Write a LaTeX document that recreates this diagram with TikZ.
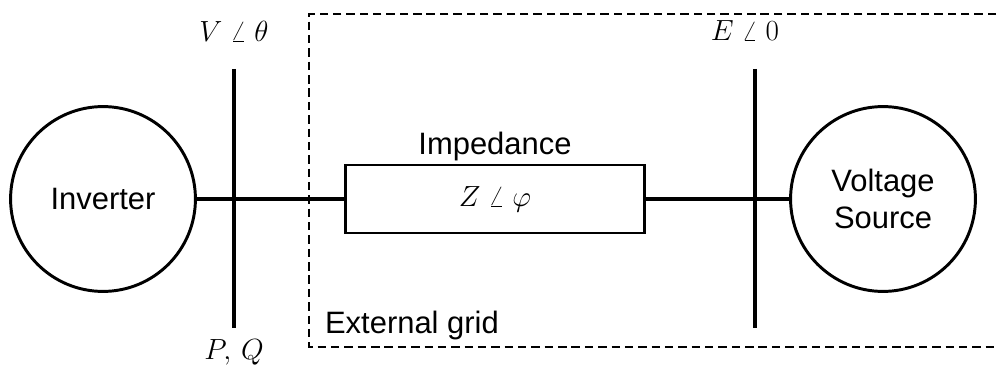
\documentclass[tikz,border=0pt]{standalone}
\usepackage{fontspec}
\setmainfont{Liberation Sans}
\usepackage{tikz}
\usetikzlibrary{positioning}

\begin{document}
\begin{tikzpicture}[x=0.025cm, y=-0.025cm,
  every node/.style={inner sep=2pt, font=\fontsize{22}{26}\selectfont},
  dev/.style={circle, draw, line width=2.1pt, minimum size=4.62cm, align=center},
  imp/.style={draw, line width=2.1pt, minimum width=7.45cm, minimum height=1.7cm},
  bus/.style={line width=2.6pt},
  wire/.style={line width=2.4pt},
  grid/.style={line width=0.9pt, dash pattern=on 6pt off 3.5pt}]
\useasboundingbox (0,0) rectangle (998,367);
% external grid frame
\draw[grid] (996,14) -- (309,14) -- (309,347) -- (996,347);
\node[anchor=west] (Ext) at (322,325) {External grid};
% devices
\node[dev] (Inv) at (103,199) {Inverter};
\node[dev] (Src) at (883,199) {Voltage\\Source};
\node[imp] (Imp) at (495,199) {$Z \;\angle\; \varphi$};
\node[above=0pt of Imp] (ImpLbl) {Impedance};
% buses
\coordinate (BusAt) at (234,69);
\coordinate (BusAb) at (234,328);
\coordinate (BusBt) at (755,69);
\coordinate (BusBb) at (755,328);
\draw[bus] (BusAt) -- (BusAb);
\draw[bus] (BusBt) -- (BusBb);
\node (Vth) at (234,31) {$V \;\angle\; \theta$};
\node (PQ) at (234,352) {$P,\,Q$};
\node (Ez) at (745,31) {$E \;\angle\; 0$};
% lines
\draw[wire] (Inv) -- (Imp);
\draw[wire] (Imp) -- (Src);
\end{tikzpicture}
\end{document}
